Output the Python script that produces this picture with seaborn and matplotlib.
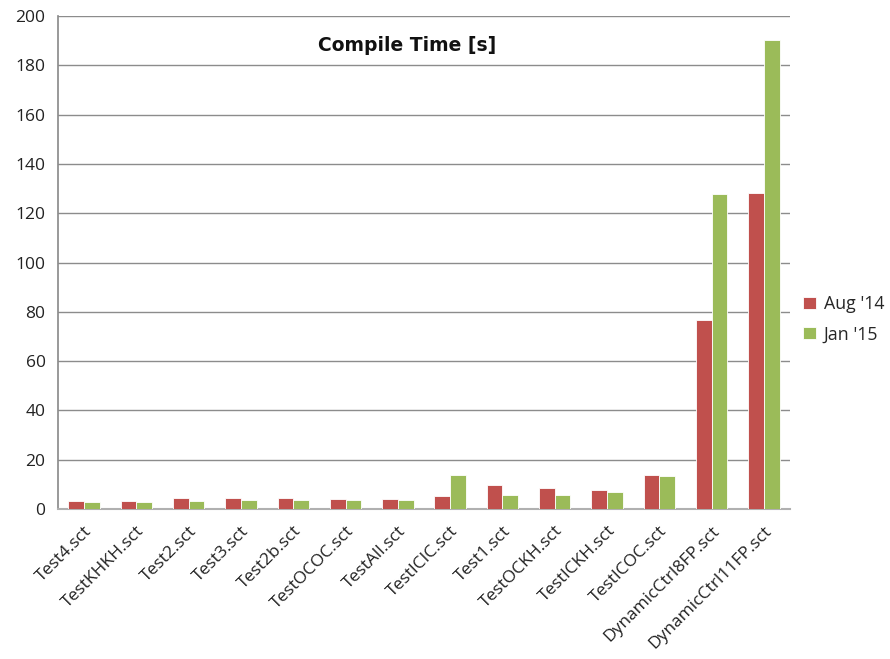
import matplotlib
matplotlib.use("Agg")
import matplotlib.pyplot as plt
import seaborn as sns
import pandas as pd
import numpy as np

files = ["Test4.sct", "TestKHKH.sct", "Test2.sct", "Test3.sct", "Test2b.sct",
         "TestOCOC.sct", "TestAll.sct", "TestICIC.sct", "Test1.sct",
         "TestOCKH.sct", "TestICKH.sct", "TestICOC.sct",
         "DynamicCtrl8FP.sct", "DynamicCtrl11FP.sct"]
aug14 = [3.4, 3.4, 4.5, 4.3, 4.6, 4.1, 4.1, 5.3, 9.7, 8.5, 7.8, 14.0, 76.5, 128.3]
jan15 = [2.8, 3.0, 3.1, 3.5, 3.5, 3.8, 3.8, 13.9, 5.8, 5.7, 7.0, 13.5, 127.6, 190.1]
series = ["Aug '14", "Jan '15"]
colors = ["#C0504D", "#9BBB59"]
yticks = list(range(0, 201, 20))

df = pd.DataFrame({
    "file": files * 2,
    "time": aug14 + jan15,
    "release": [series[0]] * len(files) + [series[1]] * len(files),
})

sns.set_theme(style="white")
plt.rcParams["font.family"] = ["Open Sans", "DejaVu Sans"]

fig = plt.figure(figsize=(8.9, 6.59), dpi=100)
ax = fig.add_axes([0.0652, 0.2276, 0.8224, 0.7481])

sns.barplot(data=df, x="file", y="time", hue="release", order=files,
            hue_order=series, palette=colors, width=0.6, saturation=1,
            edgecolor="#ffffff", linewidth=0.6, ax=ax, zorder=3)

ax.set_ylim(0, 200)
ax.set_xlim(-0.5, len(files) - 0.5)
ax.set_yticks(yticks)
ax.set_yticklabels([str(v) for v in yticks], fontsize=12.5, color="#222222")
ax.yaxis.grid(True, color="#8c8c8c", linewidth=1.0, zorder=0)
ax.set_axisbelow(True)

ax.set_xticks(range(len(files)))
ax.set_xticklabels(files, rotation=45, ha="right", rotation_mode="anchor",
                   fontsize=12.5, color="#222222")
ax.tick_params(axis="x", which="major", length=0, pad=10)
ax.set_xticks(np.arange(-0.5, len(files), 1.0), minor=True)
ax.tick_params(axis="x", which="minor", length=6, color="#8c8c8c", width=1, direction="out")
ax.tick_params(axis="y", length=5, color="#8c8c8c", width=1, direction="out", pad=4)

ax.set_xlabel("")
ax.set_ylabel("")
for side in ["top", "right"]:
    ax.spines[side].set_visible(False)
ax.spines["left"].set_color("#8c8c8c")
ax.spines["bottom"].set_color("#b0b0b0")
ax.spines["bottom"].set_linewidth(1.5)

ax.text(0.477, 0.941, "Compile Time [s]", transform=ax.transAxes,
        ha="center", va="center", fontsize=13.5, fontweight="bold",
        family=["DejaVu Sans"], color="#111111")

leg = ax.legend(loc="center left", bbox_to_anchor=(1.018, 0.385), frameon=False,
                borderaxespad=0.0, borderpad=0.0,
                fontsize=12.8, handlelength=0.7, handleheight=0.7, handletextpad=0.45,
                labelspacing=0.7)

fig.savefig("out.png", dpi=100)
